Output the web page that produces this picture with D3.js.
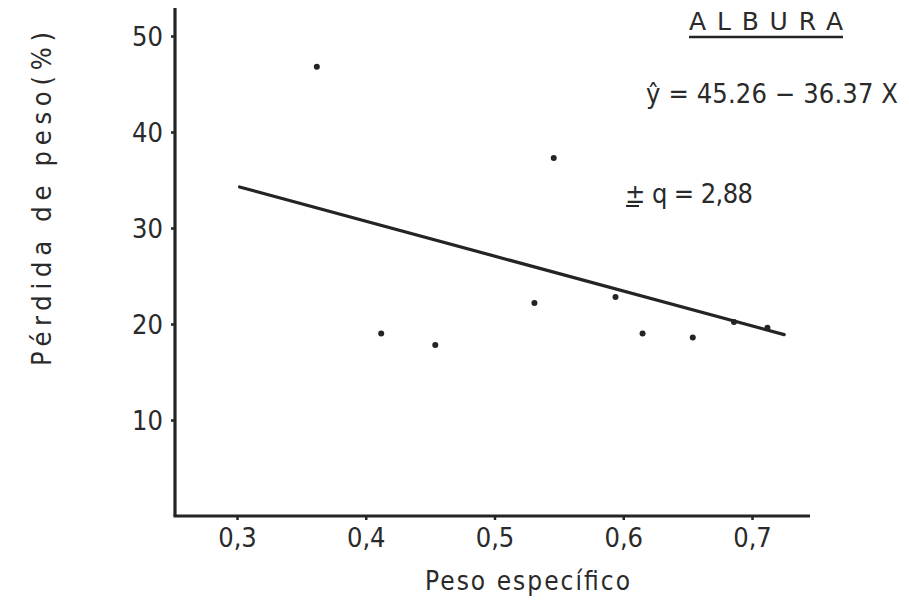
<!DOCTYPE html>
<html>
<head>
<meta charset="utf-8">
<script src="https://cdn.jsdelivr.net/npm/d3@7"></script>
<style>
  html, body { margin: 0; padding: 0; background: #fff; }
  svg { display: block; }
  text { font-family: "DejaVu Sans Condensed", "DejaVu Sans", sans-serif; fill: #2a2a2a; }
</style>
</head>
<body>
<svg id="chart" width="909" height="609"></svg>
<script>
// Specific gravity (x) vs. weight loss % (y), sapwood samples
const pesoEspecifico = [0.362, 0.412, 0.454, 0.531, 0.546, 0.594, 0.615, 0.654, 0.686, 0.712];
const perdidaPeso    = [46.8, 19.0, 17.8, 22.2, 37.3, 22.8, 19.0, 18.6, 20.2, 19.6];

// Fitted regression  y = a + b·x
const intercept = 45.26;
const slope = -36.37;
const fitRange = [0.302, 0.725];

const xTicks = [0.3, 0.4, 0.5, 0.6, 0.7];
const xTickLabels = ["0,3", "0,4", "0,5", "0,6", "0,7"];
const yTicks = [10, 20, 30, 40, 50];
const yTickLabels = ["10", "20", "30", "40", "50"];

const svg = d3.select("#chart");
const ink = "#242424";

const x = d3.scaleLinear().domain([0.3, 0.7]).range([237, 752]);
const y = d3.scaleLinear().domain([0, 50]).range([516, 36]);

const axisX0 = 175;

// Axes frame (L-shape)
svg.append("line")
  .attr("x1", axisX0).attr("y1", 8).attr("x2", axisX0).attr("y2", y(0))
  .attr("stroke", ink).attr("stroke-width", 3.2);
svg.append("line")
  .attr("x1", axisX0 - 1.5).attr("y1", y(0)).attr("x2", 810).attr("y2", y(0))
  .attr("stroke", ink).attr("stroke-width", 3.2);

// Y axis ticks and labels
const yAxis = d3.axisLeft(y).tickValues(yTicks)
  .tickFormat((d, i) => yTickLabels[i]).tickSize(4).tickPadding(8);
const gy = svg.append("g").attr("transform", `translate(${axisX0},0)`).call(yAxis);
gy.select(".domain").remove();
gy.selectAll(".tick line").attr("stroke", ink).attr("stroke-width", 2.5);
gy.selectAll(".tick text")
  .attr("font-size", 27).attr("dy", "0.36em");

// X axis ticks and labels
const xAxis = d3.axisBottom(x).tickValues(xTicks)
  .tickFormat((d, i) => xTickLabels[i]).tickSize(4).tickPadding(8);
const gx = svg.append("g").attr("transform", `translate(0,${y(0)})`).call(xAxis);
gx.select(".domain").remove();
gx.selectAll(".tick line").attr("stroke", ink).attr("stroke-width", 2.5);
gx.selectAll(".tick text").attr("font-size", 27);

// Regression line
const fit = fitRange.map(v => [v, intercept + slope * v]);
svg.append("path")
  .attr("d", d3.line().x(d => x(d[0])).y(d => y(d[1]))(fit))
  .attr("stroke", ink).attr("stroke-width", 3.2)
  .attr("stroke-linecap", "round").attr("fill", "none");

// Observations
svg.append("g").selectAll("circle")
  .data(pesoEspecifico.map((v, i) => [v, perdidaPeso[i]]))
  .join("circle")
  .attr("cx", d => x(d[0])).attr("cy", d => y(d[1]))
  .attr("r", 3).attr("fill", ink);

// Axis titles
svg.append("text")
  .attr("x", 425).attr("y", 590)
  .attr("font-size", 26)
  .attr("textLength", 205).attr("lengthAdjust", "spacing")
  .text("Peso específico");

svg.append("text")
  .attr("transform", "translate(51,366) rotate(-90)")
  .attr("font-size", 27)
  .attr("textLength", 334).attr("lengthAdjust", "spacing")
  .text("Pérdida de peso(%)");

// Title with underline
svg.append("text")
  .attr("x", 689).attr("y", 30)
  .style("font-family", "'DejaVu Sans', sans-serif")
  .attr("font-size", 25)
  .attr("textLength", 154).attr("lengthAdjust", "spacing")
  .text("ALBURA");
svg.append("line")
  .attr("x1", 689).attr("y1", 37).attr("x2", 843).attr("y2", 37)
  .attr("stroke", ink).attr("stroke-width", 2.5);

// Equation and error annotations
svg.append("text")
  .attr("x", 646).attr("y", 103)
  .attr("font-size", 27)
  .attr("textLength", 252).attr("lengthAdjust", "spacing")
  .text(`ŷ = ${d3.format(".2f")(intercept)} − ${d3.format(".2f")(-slope)} X`);

svg.append("text")
  .attr("x", 625).attr("y", 203)
  .attr("font-size", 27)
  .attr("textLength", 128).attr("lengthAdjust", "spacing")
  .text("± q = 2,88");
svg.append("line")
  .attr("x1", 626).attr("y1", 206).attr("x2", 639).attr("y2", 206)
  .attr("stroke", ink).attr("stroke-width", 2);
</script>
</body>
</html>
